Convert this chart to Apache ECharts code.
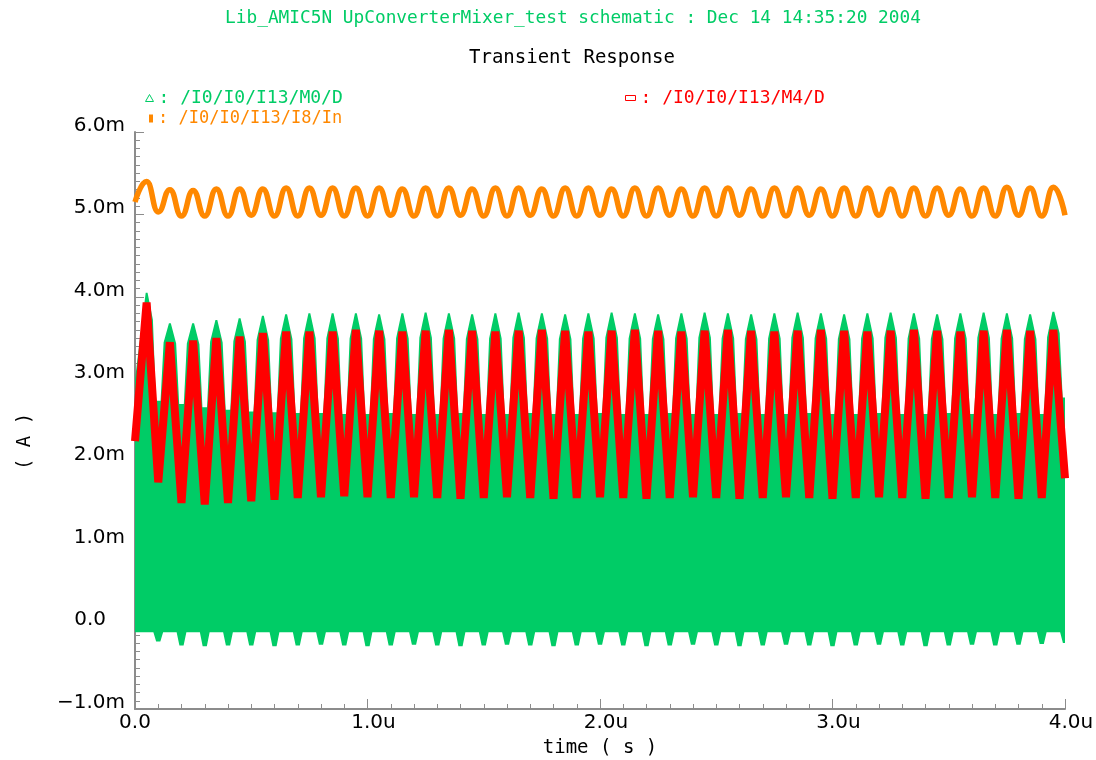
<!DOCTYPE html>
<html>
<head>
<meta charset="utf-8">
<title>Transient Response</title>
<script src="https://cdn.jsdelivr.net/npm/echarts@6/dist/echarts.min.js"></script>
<style>
  html, body { margin: 0; padding: 0; background: #ffffff; }
  #chart { width: 1096px; height: 760px; }
</style>
</head>
<body>
<div id="chart"></div>
<script>
// ---- tick labels -------------------------------------------------------
const xTickLabels = ['0.0', '1.0u', '2.0u', '3.0u', '4.0u'];          // time, 0 .. 4 us
const yTickLabels = ['\u22121.0m', '0.0', '1.0m', '2.0m', '3.0m', '4.0m', '5.0m', '6.0m']; // -1 .. 6 mA

// ---- sample times (us) -------------------------------------------------
// crest of every 10 MHz cycle, and the valley that follows it
const peakT = [0.05, 0.15, 0.25, 0.35, 0.45, 0.55, 0.65, 0.75, 0.85, 0.95,
               1.05, 1.15, 1.25, 1.35, 1.45, 1.55, 1.65, 1.75, 1.85, 1.95,
               2.05, 2.15, 2.25, 2.35, 2.45, 2.55, 2.65, 2.75, 2.85, 2.95,
               3.05, 3.15, 3.25, 3.35, 3.45, 3.55, 3.65, 3.75, 3.85, 3.95];
const troughT = [0.10, 0.20, 0.30, 0.40, 0.50, 0.60, 0.70, 0.80, 0.90, 1.00,
                 1.10, 1.20, 1.30, 1.40, 1.50, 1.60, 1.70, 1.80, 1.90, 2.00,
                 2.10, 2.20, 2.30, 2.40, 2.50, 2.60, 2.70, 2.80, 2.90, 3.00,
                 3.10, 3.20, 3.30, 3.40, 3.50, 3.60, 3.70, 3.80, 3.90, 4.00];

// ---- /I0/I0/I13/M4/D (mA) ---------------------------------------------
const redStart = 2.25;
const redPeak = [3.93, 3.45, 3.47, 3.50, 3.52, 3.56, 3.58, 3.58, 3.58, 3.60,
                 3.59, 3.58, 3.59, 3.60, 3.59, 3.58, 3.59, 3.60, 3.59, 3.58,
                 3.59, 3.60, 3.59, 3.58, 3.59, 3.60, 3.59, 3.58, 3.59, 3.60,
                 3.59, 3.58, 3.59, 3.60, 3.59, 3.58, 3.59, 3.60, 3.59, 3.60];
const redTrough = [1.75, 1.50, 1.48, 1.50, 1.52, 1.54, 1.56, 1.57, 1.58, 1.57,
                   1.56, 1.57, 1.56, 1.55, 1.56, 1.57, 1.56, 1.55, 1.56, 1.57,
                   1.56, 1.55, 1.56, 1.57, 1.56, 1.55, 1.56, 1.57, 1.56, 1.55,
                   1.56, 1.57, 1.56, 1.55, 1.56, 1.57, 1.56, 1.55, 1.56, 1.80];

// ---- /I0/I0/I13/M0/D (mA) : upper and lower edge of the RF envelope -----
const greenStartTop = 3.00;
const greenPeak = [4.05, 3.68, 3.68, 3.72, 3.74, 3.77, 3.79, 3.80, 3.80, 3.80,
                   3.79, 3.80, 3.81, 3.80, 3.79, 3.80, 3.81, 3.80, 3.79, 3.80,
                   3.81, 3.80, 3.79, 3.80, 3.81, 3.80, 3.79, 3.80, 3.81, 3.80,
                   3.79, 3.80, 3.81, 3.80, 3.79, 3.80, 3.81, 3.80, 3.79, 3.82];
const greenShelf = [2.74, 2.70, 2.66, 2.63, 2.61, 2.60, 2.59, 2.59, 2.58, 2.58,
                    2.59, 2.58, 2.58, 2.59, 2.58, 2.58, 2.59, 2.58, 2.58, 2.59,
                    2.58, 2.58, 2.59, 2.58, 2.58, 2.59, 2.58, 2.58, 2.59, 2.58,
                    2.58, 2.59, 2.58, 2.58, 2.59, 2.58, 2.58, 2.59, 2.58];
const greenEndTop = 2.78;
const greenFloor = -0.07;
const greenDip = [-0.18, -0.23, -0.24, -0.23, -0.23, -0.24, -0.23, -0.22, -0.23, -0.24,
                  -0.23, -0.22, -0.23, -0.24, -0.23, -0.22, -0.23, -0.24, -0.23, -0.22,
                  -0.23, -0.24, -0.23, -0.22, -0.23, -0.24, -0.23, -0.22, -0.23, -0.24,
                  -0.23, -0.22, -0.23, -0.24, -0.23, -0.22, -0.23, -0.22, -0.21, -0.20];

// outline of one crest of the envelope: [time from crest (us), share of the drop to the shelf]
const greenCrestProfile = [[0.004, 0], [0.027, 0.25], [0.040, 1]];
// outline of one dip of the lower edge: [time from dip centre (us), 1 = at dip value, 0 = at floor]
const greenDipProfile = [[0.009, 1], [0.021, 0]];

// ---- /I0/I0/I13/I8/In (mA) --------------------------------------------
const orangeStart = 5.15;
const orangePeak = [5.40, 5.30, 5.29, 5.31, 5.31, 5.31, 5.32, 5.32, 5.32, 5.32,
                    5.32, 5.31, 5.32, 5.32, 5.31, 5.32, 5.32, 5.31, 5.32, 5.32,
                    5.31, 5.32, 5.32, 5.31, 5.32, 5.32, 5.31, 5.32, 5.32, 5.31,
                    5.32, 5.32, 5.31, 5.32, 5.32, 5.31, 5.32, 5.33, 5.32, 5.33];
const orangeTrough = [5.03, 4.98, 4.98, 4.98, 4.99, 4.98, 4.98, 4.99, 4.98, 4.98,
                      4.99, 4.98, 4.98, 4.99, 4.98, 4.98, 4.99, 4.98, 4.98, 4.99,
                      4.98, 4.98, 4.99, 4.98, 4.98, 4.99, 4.98, 4.98, 4.99, 4.98,
                      4.98, 4.99, 4.98, 4.98, 4.99, 4.98, 4.98, 4.99, 4.98, 4.99];

// ---- styling -----------------------------------------------------------
const MONO = 'DejaVu Sans Mono';
const SANS = 'DejaVu Sans';
const GREEN = '#00cc66';
const RED = '#ff0000';
const ORANGE = '#ff8800';
const AXIS_GRAY = '#8c8c8c';
const NAME_M0 = '/I0/I0/I13/M0/D';
const NAME_M4 = '/I0/I0/I13/M4/D';
const NAME_I8 = '/I0/I0/I13/I8/In';
const T_END = 4.0;

// alternate crest / valley samples into one polyline
function crestValley(start, crests, valleys) {
  const pts = [[0, start]];
  for (let k = 0; k < crests.length; k++) {
    pts.push([peakT[k], crests[k]]);
    pts.push([troughT[k], valleys[k]]);
  }
  return pts;
}

const redData = crestValley(redStart, redPeak, redTrough);
const orangeData = crestValley(orangeStart, orangePeak, orangeTrough);

// upper edge of the M0 drain current band, crest by crest
const greenUpper = [[0, greenStartTop]];
for (let k = 0; k < peakT.length; k++) {
  const p = peakT[k], top = greenPeak[k];
  const leftShelf = k > 0 ? greenShelf[k - 1] : null;
  const rightShelf = k < greenShelf.length ? greenShelf[k] : greenEndTop;
  if (leftShelf === null) {
    greenUpper.push([p - greenCrestProfile[0][0], top]);
  } else {
    for (let i = greenCrestProfile.length - 1; i >= 0; i--) {
      const [dt, f] = greenCrestProfile[i];
      greenUpper.push([p - dt, top - f * (top - leftShelf)]);
    }
  }
  for (const [dt, f] of greenCrestProfile) {
    if (p + dt < T_END) greenUpper.push([p + dt, top - f * (top - rightShelf)]);
  }
}
greenUpper.push([T_END, greenEndTop]);

// lower edge of the band, dip by dip
const greenLower = [[0, greenFloor]];
for (let k = 0; k < troughT.length; k++) {
  const t = troughT[k], d = greenDip[k];
  for (let i = greenDipProfile.length - 1; i >= 0; i--) {
    const [dt, f] = greenDipProfile[i];
    greenLower.push([t - dt, greenFloor + f * (d - greenFloor)]);
  }
  for (const [dt, f] of greenDipProfile) {
    if (t + dt < T_END) greenLower.push([t + dt, greenFloor + f * (d - greenFloor)]);
  }
}
greenLower.push([T_END, greenDip[greenDip.length - 1]]);

const chart = echarts.init(document.getElementById('chart'), null, { renderer: 'canvas' });

chart.setOption({
  backgroundColor: '#ffffff',
  animation: false,
  textStyle: { fontFamily: MONO },
  title: [
    {
      text: 'Lib_AMIC5N UpConverterMixer_test schematic : Dec 14 14:35:20 2004',
      left: 568, top: 4, textAlign: 'center',
      textStyle: { color: GREEN, fontSize: 17.8, fontWeight: 'normal', fontFamily: MONO }
    },
    {
      text: 'Transient Response',
      left: 567, top: 44, textAlign: 'center',
      textStyle: { color: '#000000', fontSize: 19, fontWeight: 'normal', fontFamily: MONO }
    }
  ],
  legend: [
    {
      data: [{ name: NAME_M0, icon: 'triangle' }],
      left: 140, top: 84, itemWidth: 8, itemHeight: 7, selectedMode: false,
      itemStyle: { color: 'transparent', borderColor: GREEN, borderWidth: 1 },
      textStyle: { color: GREEN, fontSize: 18, fontFamily: MONO },
      formatter: n => ': ' + n
    },
    {
      data: [{ name: NAME_M4, icon: 'rect' }],
      left: 620, top: 84, itemWidth: 10, itemHeight: 5, selectedMode: false,
      itemStyle: { color: 'transparent', borderColor: RED, borderWidth: 1 },
      textStyle: { color: RED, fontSize: 18, fontFamily: MONO },
      formatter: n => ': ' + n
    },
    {
      data: [{ name: NAME_I8, icon: 'rect' }],
      left: 144, top: 105, itemWidth: 4, itemHeight: 8, selectedMode: false,
      itemStyle: { color: ORANGE, borderWidth: 0 },
      textStyle: { color: ORANGE, fontSize: 17, fontFamily: MONO },
      formatter: n => ': ' + n
    }
  ],
  grid: { left: 135, right: 31, top: 132, bottom: 51, containLabel: false, outerBoundsMode: 'none' },
  xAxis: {
    type: 'value', min: 0, max: 4, interval: 1,
    name: 'time ( s )', nameLocation: 'middle', nameGap: 30,
    nameTextStyle: { color: '#000000', fontSize: 19, fontFamily: MONO },
    axisLine: { show: true, onZero: false, lineStyle: { color: AXIS_GRAY, width: 2 } },
    axisTick: { show: true, inside: true, length: 10, lineStyle: { color: AXIS_GRAY, width: 1 } },
    minorTick: { show: true, splitNumber: 10, length: 5, lineStyle: { color: AXIS_GRAY, width: 1 } },
    splitLine: { show: false },
    minorSplitLine: { show: false },
    axisLabel: {
      color: '#000000', fontSize: 20, fontFamily: SANS, margin: 4, lineHeight: 20,
      formatter: v => {
        const s = xTickLabels[Math.round(v)];
        return s.endsWith('u') ? '{pad| }' + s : s;
      },
      rich: { pad: { width: 12, fontSize: 20, fontFamily: SANS } }
    }
  },
  yAxis: {
    type: 'value', min: -1, max: 6, interval: 1,
    name: '( A )', nameLocation: 'middle', nameRotate: 90, nameGap: 100,
    nameTextStyle: { color: '#000000', fontSize: 19, fontFamily: MONO, padding: [0, 42, 0, 0] },
    axisLine: { show: true, onZero: false, lineStyle: { color: AXIS_GRAY, width: 2 } },
    axisTick: { show: true, inside: true, length: 9, lineStyle: { color: AXIS_GRAY, width: 1 } },
    minorTick: { show: true, splitNumber: 10, length: 5, lineStyle: { color: AXIS_GRAY, width: 1 } },
    splitLine: { show: false },
    minorSplitLine: { show: false },
    axisLabel: {
      color: '#000000', fontSize: 20, fontFamily: SANS, margin: 10,
      verticalAlign: 'bottom', lineHeight: 13,
      formatter: v => {
        const s = yTickLabels[Math.round(v) + 1];
        return s.endsWith('m') ? s : s + '{pad| }';
      },
      rich: { pad: { width: 19, fontSize: 20, fontFamily: SANS } }
    }
  },
  series: [
    {
      name: NAME_M0,
      type: 'custom',
      coordinateSystem: 'cartesian2d',
      clip: true,
      silent: true,
      itemStyle: { color: GREEN },
      data: [[0, 0]],
      encode: { x: 0, y: 1 },
      renderItem: (params, api) => {
        if (params.dataIndex !== 0) return null;
        const pts = greenUpper.map(p => api.coord(p))
          .concat(greenLower.slice().reverse().map(p => api.coord(p)));
        return { type: 'polygon', shape: { points: pts }, style: { fill: GREEN, stroke: null } };
      },
      z: 2
    },
    {
      name: NAME_M4,
      type: 'line',
      data: redData,
      showSymbol: false,
      symbol: 'none',
      smooth: false,
      silent: true,
      lineStyle: { color: RED, width: 8, join: 'bevel' },
      itemStyle: { color: RED },
      z: 3
    },
    {
      name: NAME_I8,
      type: 'line',
      data: orangeData,
      showSymbol: false,
      symbol: 'none',
      smooth: 0.5,
      smoothMonotone: 'x',
      silent: true,
      lineStyle: { color: ORANGE, width: 5.5 },
      itemStyle: { color: ORANGE },
      z: 3
    }
  ]
});
</script>
</body>
</html>
